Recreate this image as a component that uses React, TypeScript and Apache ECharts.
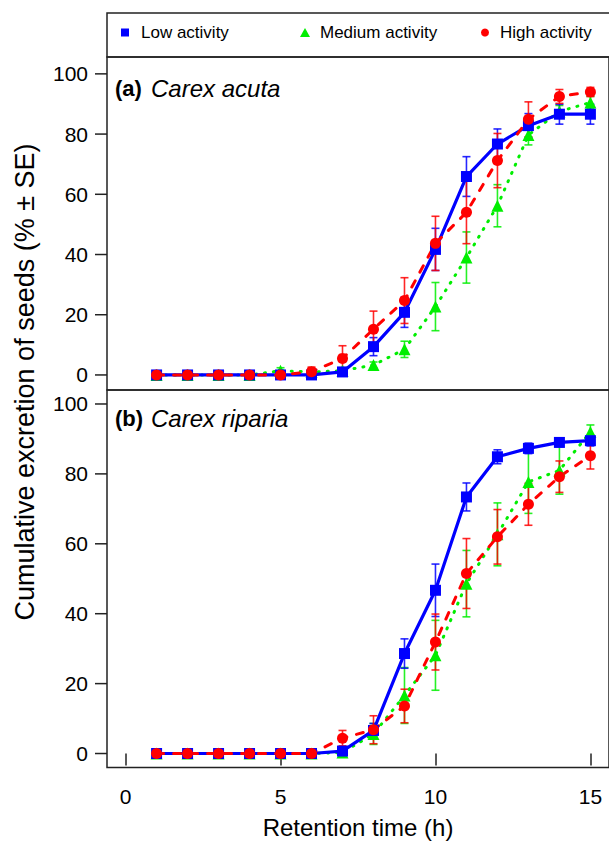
import React, { useEffect, useRef } from "react";
import * as echarts from "echarts";

const hours = [1, 2, 3, 4, 5, 6, 7, 8, 9, 10, 11, 12, 13, 14, 15];
const xTicks = [0, 5, 10, 15];
const yTicks = [0, 20, 40, 60, 80, 100];
const xTickMarks = [0, 5, 10, 15, 30];

// (a) Carex acuta
const acutaLow = [0, 0, 0, 0, 0, 0, 1, 9.4, 20.8, 41.7, 65.9, 76.7, 82.8, 86.6, 86.6];
const acutaLowSE = [0.5, 0.5, 0.5, 0.5, 0.5, 0.5, 1, 3, 5, 7, 6.6, 5, 4, 3.3, 3.3];
const acutaMed = [0, 0, 0, 0, 1.4, 1, 1.4, 3.3, 8.5, 22.7, 39, 56.2, 79.7, 87.5, 90.5];
const acutaMedSE = [0.5, 0.5, 0.5, 0.5, 1, 1, 1, 1, 2.7, 8, 8.5, 7, 3.3, 2, 2];
const acutaHigh = [0, 0, 0, 0, 0, 1.1, 5.5, 15.2, 24.7, 43.7, 54, 71.2, 84.9, 92.5, 94];
const acutaHighSE = [0.5, 0.5, 0.5, 0.5, 0.5, 1.5, 4.2, 6, 7.6, 9, 10.4, 9, 5.8, 2.3, 1.5];

// (b) Carex riparia
const ripariaLow = [0, 0, 0, 0, 0, 0, 0.7, 6.6, 28.6, 46.7, 73.4, 84.9, 87.3, 89, 89.5];
const ripariaLowSE = [0.5, 0.5, 0.5, 0.5, 0.5, 0.5, 0.5, 2, 4.2, 7.5, 4, 2, 1.5, 1, 1.5];
const ripariaMed = [0, 0, 0, 0, 0, 0, 0.3, 5.6, 16.6, 28.1, 48.6, 62.7, 77.7, 81, 92];
const ripariaMedSE = [0.5, 0.5, 0.5, 0.5, 0.5, 0.5, 0.5, 3, 8, 10, 9.5, 9, 9, 6.8, 2];
const ripariaHigh = [0, 0, 0, 0, 0, 0, 4.4, 6.8, 13.6, 31.9, 51.5, 62, 71.3, 79.2, 85.2];
const ripariaHighSE = [0.5, 0.5, 0.5, 0.5, 0.5, 0.5, 2.2, 4, 4.8, 8, 10, 7.8, 6, 4.5, 3.8];

const FONT = "Liberation Sans";
const BLUE = "#0000ff";
const GREEN = "#00ee00";
const RED = "#ff0000";
const FRAME = "#222";

const pts = (v: number[]) => hours.map((h, i) => [h, v[i]]);
const errs = (v: number[], se: number[]) => hours.map((h, i) => [h, v[i] - se[i], v[i] + se[i]]);

const errRender = (color: string) => (params: any, api: any) => {
  const x = api.value(0);
  const a = api.coord([x, api.value(1)]);
  const b = api.coord([x, api.value(2)]);
  const hw = 4;
  const style = { stroke: color, lineWidth: 1.6, opacity: 0.85 };
  return {
    type: "group",
    children: [
      { type: "line", shape: { x1: a[0], y1: a[1], x2: b[0], y2: b[1] }, style },
      { type: "line", shape: { x1: a[0] - hw, y1: a[1], x2: a[0] + hw, y2: a[1] }, style },
      { type: "line", shape: { x1: b[0] - hw, y1: b[1], x2: b[0] + hw, y2: b[1] }, style },
    ],
  };
};

function panelSeries(idx: number, low: number[], lowSE: number[], med: number[], medSE: number[], high: number[], highSE: number[]) {
  const common = { xAxisIndex: idx, yAxisIndex: idx };
  const errSeries = (name: string, color: string, v: number[], se: number[]) => ({
    ...common,
    type: "custom",
    name: name + " SE",
    renderItem: errRender(color),
    encode: { x: 0, y: [1, 2] },
    data: errs(v, se),
    clip: false,
    silent: true,
  });
  return [
    errSeries("Medium activity", GREEN, med, medSE),
    {
      ...common,
      type: "line",
      name: "Medium activity",
      data: pts(med),
      symbol: "triangle",
      symbolSize: 12,
      itemStyle: { color: GREEN },
      lineStyle: { color: GREEN, width: 3, type: [1, 8], cap: "round" },
    },
    errSeries("Low activity", BLUE, low, lowSE),
    {
      ...common,
      type: "line",
      name: "Low activity",
      data: pts(low),
      symbol: "rect",
      symbolSize: 11,
      itemStyle: { color: BLUE },
      lineStyle: { color: BLUE, width: 3.2, type: "solid" },
    },
    errSeries("High activity", RED, high, highSE),
    {
      ...common,
      type: "line",
      name: "High activity",
      data: pts(high),
      symbol: "circle",
      symbolSize: 11,
      itemStyle: { color: RED },
      lineStyle: { color: RED, width: 3, type: [7, 10], cap: "round" },
    },
  ];
}

const legendText = (pad: number) => ({ fontSize: 17, fontFamily: FONT, color: "#000", padding: [0, 0, 0, pad] });

const panelLabel = (tag: string, species: string, y: number) => [
  { type: "text", x: 115, y, style: { text: tag, fontSize: 22, fontWeight: "bold", fontFamily: FONT, fill: "#000", align: "left", verticalAlign: "middle" }, silent: true },
  { type: "text", x: 151, y, style: { text: species, fontSize: 24, fontStyle: "italic", fontWeight: "normal", fontFamily: FONT, fill: "#000", align: "left", verticalAlign: "middle" }, silent: true },
];

// y tick marks are drawn as part of each tick label (label, gap, tick)
const yAxisFor = (gridIndex: number, min: number, max: number) => ({
  type: "value", gridIndex, min, max,
  axisLine: { show: false },
  axisTick: { show: false },
  axisLabel: {
    show: true,
    customValues: yTicks,
    margin: 0,
    fontSize: 21,
    fontFamily: FONT,
    color: "#000",
    formatter: (v: number) => `{v|${v}}{g| }{t| }`,
    rich: {
      v: { fontSize: 21, fontFamily: FONT, color: "#000" },
      g: { width: 7, fontSize: 4, color: "transparent" },
      t: { width: 12, height: 1.5, fontSize: 1, color: "transparent", backgroundColor: FRAME },
    },
  },
  splitLine: { show: false },
});

const option: any = {
  animation: false,
  backgroundColor: "#fff",
  grid: [
    { left: 107, top: 57, width: 504, height: 333, show: true, borderColor: FRAME, borderWidth: 1.5, backgroundColor: "transparent" },
    { left: 107, top: 390, width: 504, height: 377.5, show: true, borderColor: FRAME, borderWidth: 1.5, backgroundColor: "transparent" },
  ],
  xAxis: [
    { type: "value", gridIndex: 0, min: -0.6, max: 15.6, axisLine: { show: false }, axisTick: { show: false }, axisLabel: { show: false }, splitLine: { show: false } },
    {
      type: "value", gridIndex: 1, min: -0.6, max: 15.6,
      axisLine: { show: false },
      axisTick: { show: true, inside: false, customValues: xTickMarks, length: 12, lineStyle: { color: FRAME, width: 1.5 } },
      axisLabel: { show: true, customValues: xTicks, margin: 18, fontSize: 21, fontFamily: FONT, color: "#000" },
      splitLine: { show: false },
    },
  ],
  yAxis: [yAxisFor(0, -5, 105.6), yAxisFor(1, -4, 104)],
  legend: [
    { left: 121, top: 24, padding: 0, itemWidth: 8, itemHeight: 8, data: [{ name: "Low activity", icon: "rect" }], textStyle: legendText(7), selectedMode: false },
    { left: 300, top: 24, padding: 0, itemWidth: 10, itemHeight: 9, data: [{ name: "Medium activity", icon: "triangle" }], textStyle: legendText(5), selectedMode: false },
    { left: 481, top: 24, padding: 0, itemWidth: 8, itemHeight: 8, data: [{ name: "High activity", icon: "circle" }], textStyle: legendText(6), selectedMode: false },
  ],
  graphic: [
    { type: "rect", shape: { x: 107, y: 13, width: 504, height: 44 }, style: { fill: "none", stroke: FRAME, lineWidth: 1.5 }, silent: true },
    ...panelLabel("(a)", "Carex acuta", 88),
    ...panelLabel("(b)", "Carex riparia", 418),
    {
      type: "text", x: 25, y: 382, rotation: Math.PI / 2,
      style: { text: "Cumulative excretion of seeds (% ± SE)", fontSize: 27, fontFamily: FONT, fill: "#000", align: "center", verticalAlign: "middle" },
      silent: true,
    },
    {
      type: "text", x: 358, y: 827,
      style: { text: "Retention time (h)", fontSize: 24, fontFamily: FONT, fill: "#000", align: "center", verticalAlign: "middle" },
      silent: true,
    },
  ],
  series: [
    ...panelSeries(0, acutaLow, acutaLowSE, acutaMed, acutaMedSE, acutaHigh, acutaHighSE),
    ...panelSeries(1, ripariaLow, ripariaLowSE, ripariaMed, ripariaMedSE, ripariaHigh, ripariaHighSE),
  ],
};

export default function App() {
  const ref = useRef<HTMLDivElement>(null);
  useEffect(() => {
    if (!ref.current) return;
    const chart = echarts.init(ref.current, null, { renderer: "svg" });
    chart.setOption(option);
    return () => chart.dispose();
  }, []);
  return <div ref={ref} style={{ position: "absolute", left: 0, top: 0, width: 609, height: 841 }} />;
}
